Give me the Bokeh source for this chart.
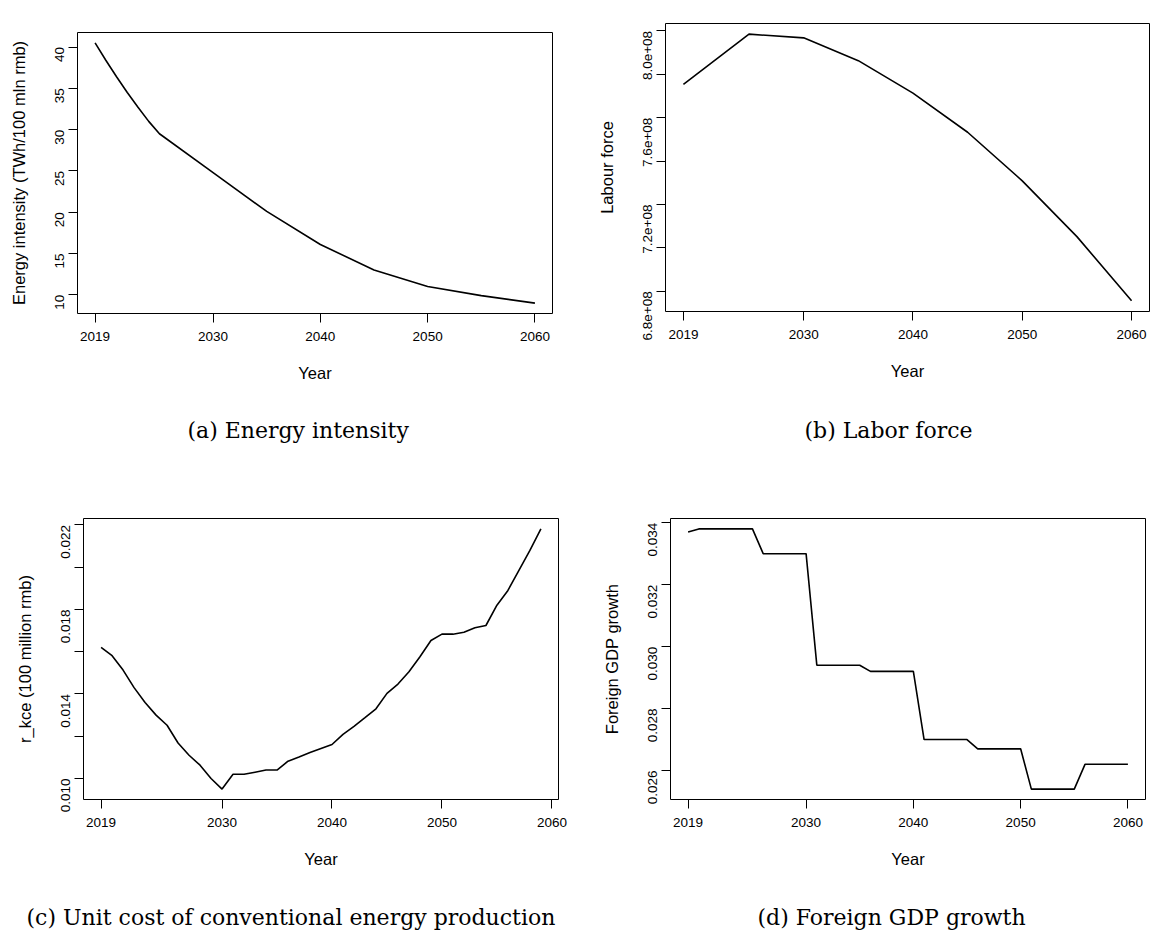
import math

from bokeh.embed import file_html
from bokeh.layouts import column, row
from bokeh.models import FixedTicker, Range1d, Title
from bokeh.plotting import figure
from bokeh.resources import INLINE

# ---- data -----------------------------------------------------------------
year_ticks = [2019, 2030, 2040, 2050, 2060]

# (a) energy intensity, TWh per 100 mln rmb
ei_years = [2019, 2020, 2021, 2022, 2023, 2024, 2025, 2030, 2035, 2040, 2045, 2050, 2055, 2060]
ei_values = [40.5, 38.4, 36.4, 34.5, 32.7, 31.0, 29.5, 24.8, 20.1, 16.1, 13.0, 11.0, 9.9, 9.0]
ei_ticks = [10, 15, 20, 25, 30, 35, 40]
ei_tick_labels = ["10", "15", "20", "25", "30", "35", "40"]

# (b) labour force, persons
lf_years = [2019, 2025, 2030, 2035, 2040, 2045, 2050, 2055, 2060]
lf_values = [7.754e8, 7.985e8, 7.968e8, 7.863e8, 7.713e8, 7.533e8, 7.309e8, 7.052e8, 6.756e8]
lf_ticks = [6.8e8, 7.0e8, 7.2e8, 7.4e8, 7.6e8, 7.8e8, 8.0e8]
lf_tick_labels = ["6.8e+08", "", "7.2e+08", "", "7.6e+08", "", "8.0e+08"]

# (c) unit cost of conventional energy production, 100 million rmb
kce_years = list(range(2019, 2060))
kce_values = [
    0.01620, 0.01581, 0.01513, 0.01430, 0.01360, 0.01300, 0.01252, 0.01168, 0.01110, 0.01063,
    0.01000, 0.00950, 0.01020, 0.01020, 0.01030, 0.01040, 0.01040, 0.01082, 0.01102, 0.01123,
    0.01142, 0.01161, 0.01209, 0.01247, 0.01288, 0.01330, 0.01403, 0.01447, 0.01505, 0.01576,
    0.01653, 0.01683, 0.01683, 0.01692, 0.01713, 0.01724, 0.01820, 0.01890, 0.01985, 0.02079,
    0.02181,
]
kce_ticks = [0.010, 0.012, 0.014, 0.016, 0.018, 0.020, 0.022]
kce_tick_labels = ["0.010", "", "0.014", "", "0.018", "", "0.022"]

# (d) foreign GDP growth
gdp_years = list(range(2019, 2061))
gdp_values = [
    0.0337, 0.0338, 0.0338, 0.0338, 0.0338, 0.0338, 0.0338,
    0.0330, 0.0330, 0.0330, 0.0330, 0.0330,
    0.0294, 0.0294, 0.0294, 0.0294, 0.0294,
    0.0292, 0.0292, 0.0292, 0.0292, 0.0292,
    0.0270, 0.0270, 0.0270, 0.0270, 0.0270,
    0.0267, 0.0267, 0.0267, 0.0267, 0.0267,
    0.0254, 0.0254, 0.0254, 0.0254, 0.0254,
    0.0262, 0.0262, 0.0262, 0.0262, 0.0262,
]
gdp_ticks = [0.026, 0.028, 0.030, 0.032, 0.034]
gdp_tick_labels = ["0.026", "0.028", "0.030", "0.032", "0.034"]

SANS = "Liberation Sans"
SERIF = "DejaVu Serif"


def padded(vals):
    # base-graphics style range: 4 % of the span added on each side
    lo, hi = min(vals), max(vals)
    d = 0.04 * (hi - lo)
    return Range1d(lo - d, hi + d)


def panel(xs, ys, ylabel, yticks, ylabels, caption, geo):
    left, fw, right, top, fh, bottom, cap_left, cap_gap = geo
    p = figure(
        frame_width=fw, frame_height=fh,
        min_border_left=left, min_border_right=right,
        min_border_top=top, min_border_bottom=bottom,
        x_range=padded(xs), y_range=padded(ys),
        output_backend="svg", toolbar_location=None,
        background_fill_color="white", border_fill_color="white",
    )
    p.xgrid.visible = False
    p.ygrid.visible = False
    p.outline_line_color = "black"
    p.outline_line_width = 1
    p.outline_line_alpha = 1.0

    p.line(xs, ys, line_color="black", line_width=1.6)

    for ax in (p.xaxis[0], p.yaxis[0]):
        ax.axis_line_color = None
        ax.major_tick_line_color = "black"
        ax.major_tick_out = 9
        ax.major_tick_in = 0
        ax.minor_tick_line_color = None
        ax.major_label_text_font = SANS
        ax.major_label_text_font_size = "13.5px"
        ax.major_label_text_color = "black"
        ax.axis_label_text_font = SANS
        ax.axis_label_text_font_size = "16.5px"
        ax.axis_label_text_font_style = "normal"
        ax.axis_label_text_color = "black"

    xa = p.xaxis[0]
    xa.ticker = FixedTicker(ticks=year_ticks)
    xa.major_label_overrides = {t: str(t) for t in year_ticks}
    xa.major_label_standoff = 9
    xa.axis_label = "Year"
    xa.axis_label_standoff = 20

    ya = p.yaxis[0]
    ya.ticker = FixedTicker(ticks=yticks)
    ya.major_label_overrides = dict(zip(yticks, ylabels))
    ya.major_label_orientation = math.pi / 2
    ya.major_label_standoff = 9
    ya.axis_label = ylabel
    ya.axis_label_standoff = 20

    # sub-figure caption under the x-axis title
    p.add_layout(Title(
        text=caption, align="left", offset=cap_left, standoff=cap_gap,
        text_font=SERIF, text_font_size="22px", text_font_style="normal",
        text_color="black",
    ), "below")
    return p


pa = panel(ei_years, ei_values, "Energy intensity (TWh/100 mln rmb)",
           ei_ticks, ei_tick_labels, "(a) Energy intensity",
           (77, 475, 28, 32, 281, 174, 110, 62))
pb = panel(lf_years, lf_values, "Labour force",
           lf_ticks, lf_tick_labels, "(b) Labor force",
           (85, 484, 2, 23, 288, 176, 139, 66))
pc = panel(kce_years, kce_values, "r_kce (100 million rmb)",
           kce_ticks, kce_tick_labels, "(c) Unit cost of conventional energy production",
           (83, 475, 22, 31, 281, 132, -57, 64))
pd = panel(gdp_years, gdp_values, "Foreign GDP growth",
           gdp_ticks, gdp_tick_labels, "(d) Foreign GDP growth",
           (90, 475, 6, 31, 281, 132, 87, 64))

# each figure sits in its own column so the plot frames keep their own offsets
top_row = row(column(pa, spacing=0), column(pb, spacing=0), spacing=0)
bottom_row = row(column(pc, spacing=0), column(pd, spacing=0), spacing=0)
layout = column(top_row, bottom_row, spacing=0)

with open("out.html", "w") as f:
    f.write(file_html(layout, INLINE))
